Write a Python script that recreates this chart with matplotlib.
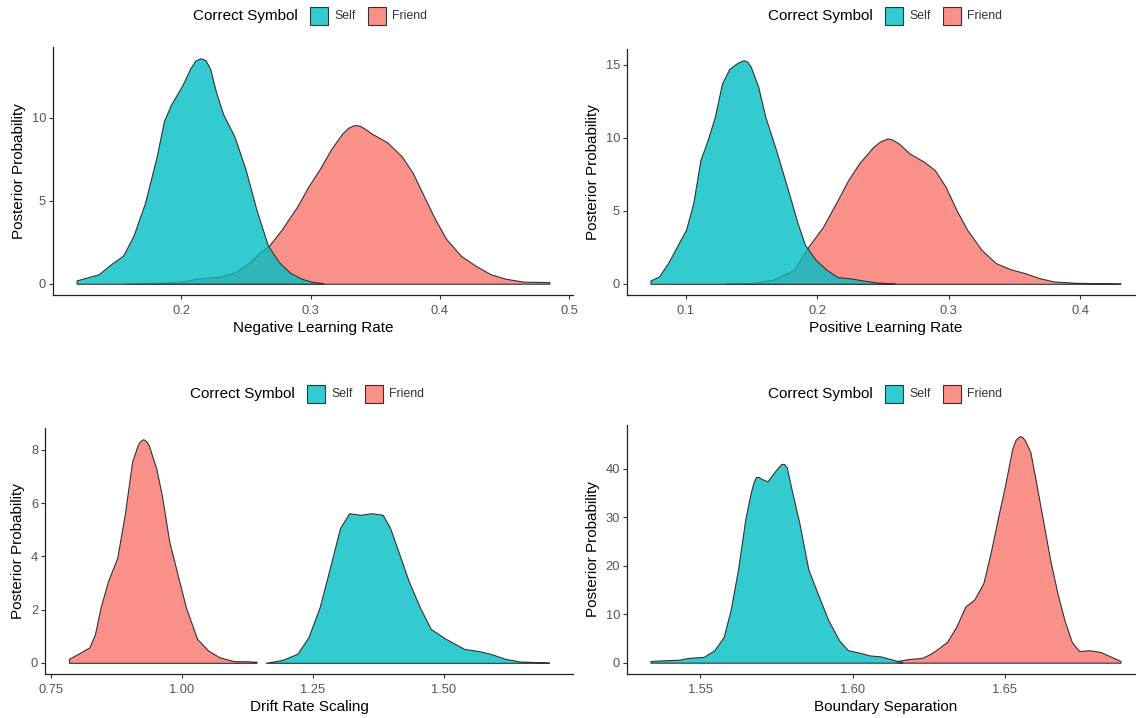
import matplotlib
matplotlib.use("Agg")
import matplotlib.pyplot as plt
from matplotlib.colors import to_rgba
from matplotlib.patches import Rectangle

plt.rcParams['font.family'] = ['Liberation Sans', 'DejaVu Sans']

# ---------------- data ----------------
groups = ["Self", "Friend"]
colors = {"Self": "#00BFC4", "Friend": "#F8766D"}
legend_title = "Correct Symbol"
ylabel = "Posterior Probability"

# Panel 1: Negative Learning Rate
neg_self_x = [0.119, 0.136, 0.146, 0.155, 0.163, 0.172, 0.181, 0.1865, 0.192, 0.201, 0.207,
              0.2108, 0.2147, 0.2186, 0.2224, 0.2267, 0.2325, 0.241, 0.2497, 0.258, 0.267, 0.2756,
              0.284, 0.293, 0.301, 0.31]
neg_self_y = [0.2, 0.57, 1.2, 1.7, 2.9, 4.9, 7.7, 9.8, 10.8, 12.0, 13.0,
              13.45, 13.6, 13.5, 12.95, 11.6, 10.2, 8.9, 6.9, 4.5, 2.3, 1.3,
              0.67, 0.3, 0.12, 0.03]
neg_friend_x = [0.157, 0.198, 0.212, 0.2296, 0.241, 0.2526, 0.261, 0.268, 0.278, 0.29, 0.2986,
                0.307, 0.3158, 0.3244, 0.329, 0.333, 0.336, 0.3388, 0.343, 0.3474, 0.359, 0.3704,
                0.379, 0.3876, 0.3963, 0.405, 0.4164, 0.428, 0.4394, 0.451, 0.4652, 0.4848]
neg_friend_y = [0.0, 0.1, 0.3, 0.42, 0.67, 1.27, 1.9, 2.3, 3.3, 4.7, 5.9,
                6.9, 8.1, 9.05, 9.4, 9.55, 9.57, 9.5, 9.3, 9.05, 8.55, 7.7,
                6.7, 5.3, 3.9, 2.7, 1.68, 1.07, 0.57, 0.3, 0.12, 0.1]

# Panel 2: Positive Learning Rate
pos_self_x = [0.073, 0.0794, 0.0863, 0.0945, 0.1, 0.1055, 0.111, 0.1165, 0.122, 0.1274, 0.133,
              0.1384, 0.141, 0.144, 0.1467, 0.1494, 0.155, 0.1604, 0.1686, 0.1769, 0.185, 0.1906,
              0.1988, 0.207, 0.2153, 0.2263, 0.2345, 0.2455, 0.259]
pos_self_y = [0.23, 0.5, 1.41, 2.78, 3.69, 5.5, 8.47, 9.83, 11.43, 13.7, 14.7,
              15.07, 15.2, 15.3, 15.2, 14.84, 13.48, 11.43, 9.15, 6.65, 4.14, 2.66,
              1.64, 0.96, 0.46, 0.36, 0.23, 0.09, 0.02]
pos_friend_x = [0.130, 0.1494, 0.1659, 0.1823, 0.1933, 0.2043, 0.2153, 0.2235, 0.2318, 0.2427,
                0.248, 0.2537, 0.2575, 0.262, 0.2702, 0.2812, 0.2894, 0.2976, 0.3059, 0.3141,
                0.325, 0.336, 0.347, 0.358, 0.369, 0.38, 0.3965, 0.4308]
pos_friend_y = [0.0, 0.05, 0.27, 0.96, 2.55, 3.9, 5.7, 7.1, 8.24, 9.38,
                9.75, 9.95, 9.85, 9.6, 8.92, 8.35, 7.78, 6.65, 5.05, 3.69,
                2.32, 1.41, 1.0, 0.73, 0.39, 0.16, 0.07, 0.02]

# Panel 3: Drift Rate Scaling
drift_friend_x = [0.784, 0.8017, 0.823, 0.8336, 0.8443, 0.8585, 0.876, 0.8904, 0.9045, 0.915,
                  0.920, 0.9258, 0.931, 0.9364, 0.9506, 0.9612, 0.9754, 0.9896, 1.0073, 1.0286,
                  1.05, 1.071, 1.0995, 1.1207, 1.142]
drift_friend_y = [0.15, 0.34, 0.58, 1.08, 2.08, 3.07, 3.94, 5.56, 7.55, 8.17,
                  8.33, 8.4, 8.33, 8.17, 7.3, 6.3, 4.56, 3.45, 2.08, 0.9,
                  0.46, 0.21, 0.06, 0.06, 0.04]
drift_self_x = [1.1597, 1.1916, 1.22, 1.2412, 1.2625, 1.2838, 1.3015, 1.319, 1.3405, 1.3617,
                1.383, 1.3972, 1.415, 1.4326, 1.454, 1.475, 1.5035, 1.539, 1.567, 1.5886,
                1.617, 1.645, 1.7006]
drift_self_y = [0.0, 0.11, 0.34, 0.96, 2.08, 3.69, 5.06, 5.62, 5.56, 5.62,
                5.56, 5.06, 4.07, 3.07, 2.08, 1.27, 0.9, 0.52, 0.44, 0.34,
                0.15, 0.05, 0.01]

# Panel 4: Boundary Separation
bound_self_x = [1.5337, 1.5382, 1.5429, 1.5464, 1.5512, 1.5547, 1.5577, 1.56, 1.5624, 1.5648,
                1.5666, 1.5675, 1.5683, 1.5692, 1.5701, 1.5721, 1.5743, 1.5766, 1.5775, 1.5784,
                1.5802, 1.5825, 1.5855, 1.5885, 1.592, 1.5956, 1.5985, 1.6021, 1.6056, 1.6092,
                1.6139, 1.6163]
bound_self_y = [0.35, 0.5, 0.6, 1.0, 1.2, 2.6, 5.3, 10.9, 19.2, 29.6,
                35.1, 37.2, 38.3, 38.3, 37.9, 37.4, 39.3, 41.0, 41.0, 40.3,
                35.1, 28.9, 19.2, 14.35, 8.8, 4.6, 2.56, 2.08, 1.5, 1.3,
                0.48, 0.14]
bound_friend_x = [1.6145, 1.6186, 1.6228, 1.6257, 1.6281, 1.631, 1.634, 1.637, 1.6399, 1.6429,
                  1.6453, 1.6476, 1.65, 1.6524, 1.6535, 1.6547, 1.6556, 1.6565, 1.6583, 1.66,
                  1.6624, 1.6648, 1.6672, 1.6695, 1.6719, 1.6743, 1.6778, 1.6814, 1.6849, 1.6879]
bound_friend_y = [0.35, 0.76, 0.97, 1.87, 2.9, 4.3, 7.4, 11.6, 13.0, 16.4,
                  22.7, 29.6, 36.5, 44.2, 46.0, 46.7, 46.6, 45.9, 43.5, 37.9,
                  29.6, 21.3, 14.35, 8.8, 4.3, 2.4, 2.56, 2.2, 1.2, 0.35]

xlabels = ["Negative Learning Rate", "Positive Learning Rate", "Drift Rate Scaling", "Boundary Separation"]
xticks = [[0.2, 0.3, 0.4, 0.5], [0.1, 0.2, 0.3, 0.4], [0.75, 1.00, 1.25, 1.50], [1.55, 1.60, 1.65]]
xticklabels = [["0.2", "0.3", "0.4", "0.5"], ["0.1", "0.2", "0.3", "0.4"],
               ["0.75", "1.00", "1.25", "1.50"], ["1.55", "1.60", "1.65"]]
yticks = [[0, 5, 10], [0, 5, 10, 15], [0, 2, 4, 6, 8], [0, 10, 20, 30, 40]]

panels = [
    {"Self": (neg_self_x, neg_self_y), "Friend": (neg_friend_x, neg_friend_y)},
    {"Self": (pos_self_x, pos_self_y), "Friend": (pos_friend_x, pos_friend_y)},
    {"Self": (drift_self_x, drift_self_y), "Friend": (drift_friend_x, drift_friend_y)},
    {"Self": (bound_self_x, bound_self_y), "Friend": (bound_friend_x, bound_friend_y)},
]

# ---------------- layout ----------------
W, H = 1136, 718
fig = plt.figure(figsize=(W / 100, H / 100), dpi=100)

# axes boxes in pixels: (left, right, top, bottom)
boxes = [(53, 573, 47, 295), (627, 1144, 49, 295), (45, 573, 428, 674), (627, 1144, 425, 674)]
legend_pos = [(193, 16), (768, 16), (190, 394), (768, 394)]

edge = "#333333"
for i, (box, pdata) in enumerate(zip(boxes, panels)):
    l, r, t, b = box
    ax = fig.add_axes([l / W, 1 - b / H, (r - l) / W, (b - t) / H])
    for g in ["Friend", "Self"]:
        x, y = pdata[g]
        ax.fill_between(x, 0, y, facecolor=to_rgba(colors[g], 0.8), edgecolor=edge,
                        linewidth=0.8, joinstyle="round", zorder=2 if g == "Friend" else 3)
    ax.margins(x=0.05, y=0.05)
    for s in ["top", "right"]:
        ax.spines[s].set_visible(False)
    for s in ["left", "bottom"]:
        ax.spines[s].set_color("#222222")
        ax.spines[s].set_linewidth(0.9)
    ax.set_xticks(xticks[i])
    ax.set_xticklabels(xticklabels[i])
    ax.set_yticks(yticks[i])
    ax.tick_params(axis="both", length=2.75, width=0.8, color=edge, labelcolor="#555555",
                   labelsize=9.3)
    ax.tick_params(axis="x", pad=4.2)
    ax.tick_params(axis="y", pad=2.2)
    ax.set_xlabel(xlabels[i], fontsize=11, color="black", labelpad=3)
    ax.set_ylabel(ylabel, fontsize=11, color="black", labelpad=4)

    # legend (title on the left, horizontal keys)
    lx, ly = legend_pos[i]
    fig.text(lx / W, 1 - ly / H, legend_title, fontsize=11, ha="left", va="center")
    kx = lx + 117
    for g in groups:
        fig.patches.append(Rectangle((kx / W, 1 - (ly + 9) / H), 18 / W, 18 / H,
                                     transform=fig.transFigure, facecolor=to_rgba(colors[g], 0.8),
                                     edgecolor=edge, linewidth=0.8))
        fig.text((kx + 24) / W, 1 - ly / H, g, fontsize=8.8, ha="left", va="center", color="#333333")
        kx += 24 + (25 if g == "Self" else 40) + 9

fig.savefig("out.png", dpi=100)
